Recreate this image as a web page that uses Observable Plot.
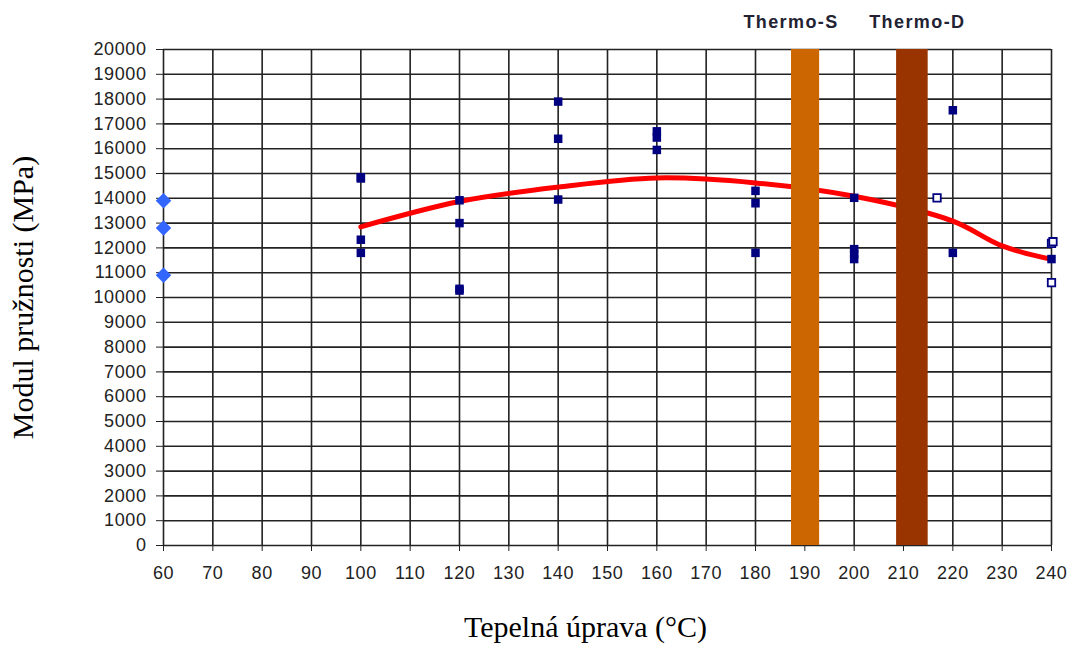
<!DOCTYPE html>
<html><head><meta charset="utf-8">
<script src="https://cdn.jsdelivr.net/npm/d3@7"></script>
<script src="https://cdn.jsdelivr.net/npm/@observablehq/plot@0.6"></script>
<style>
body{margin:0;background:#fff} svg{display:block}
g[aria-label$="tick label"] text{letter-spacing:0.6px}
</style>
</head><body><div id="chart"></div>
<script>
const xTicks = [60,70,80,90,100,110,120,130,140,150,160,170,180,190,200,210,220,230,240];
const yTicks = [0,1000,2000,3000,4000,5000,6000,7000,8000,9000,10000,11000,12000,13000,14000,15000,16000,17000,18000,19000,20000];

const solidTemp    = [100,100,100,100, 120,120,120,120, 140,140,140, 160,160,160, 180,180,180, 200,200,200,200, 220,220, 240];
const solidModulus = [14800,14850,12330,11800, 13920,13000,10350,10280, 17900,16400,13950, 16700,16450,15950, 14300,13800,11800, 14020,11950,11750,11550, 17550,11800, 11550];

const hollowTemp    = [216.8, 240, 240.3, 240];
const hollowModulus = [14020, 12180, 12250, 10600];

const refTemp    = [60,60,60];
const refModulus = [13900,12800,10900];

const trendTemp    = [100,120,140,160,180,200,220,230,240];
const trendModulus = [12850,13870,14450,14820,14620,14080,13080,12080,11540];

const bandNames  = ["Thermo-S","Thermo-D"];
const bandStart  = [187.3,208.6];
const bandEnd    = [193.0,215.0];
const bandColors = ["#cc6600","#993300"];
const bandLabelX = [187.2,212.8];

const xTitle = "Tepelná úprava (°C)";
const yTitle = "Modul pružnosti (MPa)";

const solid = solidTemp.map((t,i)=>({t, m: solidModulus[i]}));
const hollow = hollowTemp.map((t,i)=>({t, m: hollowModulus[i]}));
const ref = refTemp.map((t,i)=>({t, m: refModulus[i]}));
const trend = trendTemp.map((t,i)=>({t, m: trendModulus[i]}));
const bands = bandNames.map((n,i)=>({n, a: bandStart[i], b: bandEnd[i], c: bandColors[i], lx: bandLabelX[i]}));

const plot = Plot.plot({
  width: 1073, height: 648,
  marginLeft: 163, marginRight: 22, marginTop: 49, marginBottom: 103,
  style: {fontFamily: "'Liberation Sans', Arial, sans-serif", fontSize: "18px", color: "#222", background: "#fff", overflow: "visible"},
  x: {domain: [60,240], ticks: xTicks, tickSize: 6, tickPadding: 15, label: null, tickFormat: d => String(d)},
  y: {domain: [0,20000], ticks: yTicks, tickSize: 7, tickPadding: 10, label: null, tickFormat: d => String(d)},
  marks: [
    Plot.ruleX(xTicks, {stroke: "#222", strokeWidth: 1.6}),
    Plot.ruleY(yTicks, {stroke: "#222", strokeWidth: 1.6}),
    Plot.line(trend, {x: "t", y: "m", stroke: "#ff0000", strokeWidth: 5, curve: "catmull-rom"}),
    Plot.dot(solid, {x: "t", y: "m", symbol: "square", r: 4.8, fill: "#000080"}),
    Plot.dot(hollow, {x: "t", y: "m", symbol: "square", r: 4.2, fill: "#fff", stroke: "#000080", strokeWidth: 1.8}),
    Plot.dot(ref, {x: "t", y: "m", symbol: "diamond2", r: 7, fill: "#3366ff"}),
    Plot.rect(bands, {x1: "a", x2: "b", fill: "c"}),
    Plot.text(bands, {x: "lx", text: "n", frameAnchor: "top", lineAnchor: "middle", textAnchor: "middle", dy: -27, fontWeight: "bold", fontSize: 18, fill: "#222233"}),
    Plot.text([xTitle], {text: d => d, frameAnchor: "bottom", lineAnchor: "middle", textAnchor: "middle", dx: -22, dy: 82, fontFamily: "'Liberation Serif', 'Times New Roman', serif", fontSize: 30, fill: "#000"}),
    Plot.text([yTitle], {text: d => d, frameAnchor: "left", lineAnchor: "middle", textAnchor: "middle", rotate: -90, dx: -140, fontFamily: "'Liberation Serif', 'Times New Roman', serif", fontSize: 30, fill: "#000"})
  ]
});
d3.select(plot).selectAll("text").filter(function(){ return bandNames.includes(this.textContent); }).style("letter-spacing", "1.4px");
document.getElementById("chart").appendChild(plot);
</script>
</body></html>
